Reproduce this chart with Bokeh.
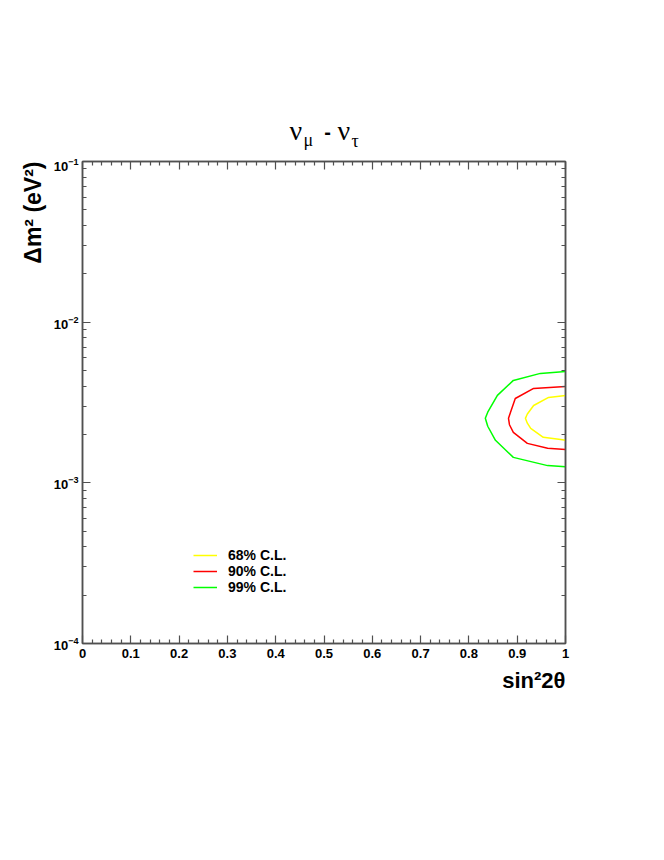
from bokeh.plotting import figure
from bokeh.layouts import column
from bokeh.models import (Range1d, FixedTicker, LinearAxis, LogAxis, Label, Title,
                          Legend, LegendItem, CustomJSTickFormatter)
from bokeh.embed import file_html
from bokeh.resources import INLINE

# ---- data ----
sin2_68 = [1.0, 0.965, 0.934, 0.921, 0.917, 0.921, 0.928, 0.954, 0.990, 1.0]
dm2_68 = [3.50e-3, 3.40e-3, 3.03e-3, 2.68e-3, 2.52e-3, 2.35e-3, 2.18e-3, 1.92e-3, 1.86e-3, 1.84e-3]

sin2_90 = [1.0, 0.934, 0.896, 0.886, 0.882, 0.884, 0.892, 0.921, 0.963, 1.0]
dm2_90 = [3.98e-3, 3.87e-3, 3.35e-3, 2.74e-3, 2.52e-3, 2.30e-3, 2.06e-3, 1.76e-3, 1.64e-3, 1.61e-3]

sin2_99 = [1.0, 0.948, 0.892, 0.859, 0.839, 0.834, 0.839, 0.855, 0.892, 0.963, 1.0]
dm2_99 = [4.93e-3, 4.80e-3, 4.34e-3, 3.50e-3, 2.75e-3, 2.52e-3, 2.25e-3, 1.84e-3, 1.44e-3, 1.28e-3, 1.26e-3]

cl_labels = ["68% C.L.", "90% C.L.", "99% C.L."]
cl_colors = ["#ffff00", "#ff0000", "#00ff00"]

x_ticks = [0.0, 0.1, 0.2, 0.3, 0.4, 0.5, 0.6, 0.7, 0.8, 0.9, 1.0]
y_ticks = [1e-4, 1e-3, 1e-2, 1e-1]

FONT = "Liberation Sans"
SERIF = "Liberation Serif"
AX = "#505050"

x_minor = [i * 0.02 for i in range(51) if i % 5]
y_minor = [m * t for t in y_ticks[:-1] for m in range(2, 10)]

# ---------- title strip (its frame is aligned with the plot frame: starts at x=82) ----------
TH = 158
FL = 82
head = figure(width=656, height=TH, x_range=Range1d(0, 1), y_range=Range1d(0, 1),
              x_axis_location=None, y_axis_location=None,
              output_backend="svg", toolbar_location=None,
              min_border_left=0, min_border_right=0, min_border_top=0, min_border_bottom=0)
head.grid.visible = False
head.outline_line_color = None
head.border_fill_color = "white"


def tlabel(x, baseline, text, font, size, style="normal", align="left"):
    head.add_layout(Label(x=x - FL, y=TH - baseline, x_units="screen", y_units="screen",
                          text=text, text_font=font, text_font_size=size,
                          text_font_style=style, text_align=align,
                          text_baseline="alphabetic", text_color="black"))


tlabel(289, 130, "ν", SERIF, "28px")
tlabel(303, 139, "μ", SERIF, "18px")
tlabel(327, 131, "-", FONT, "20px", "bold", "center")
tlabel(337, 130, "ν", SERIF, "28px")
tlabel(351, 140, "τ", SERIF, "18px")

# ---------- main plot ----------
p = figure(width=656, height=838 - TH,
           x_range=Range1d(0, 1), y_range=Range1d(1e-4, 1e-1),
           y_axis_type="log", output_backend="svg", toolbar_location=None,
           min_border_left=82, min_border_right=91,
           min_border_top=161 - TH, min_border_bottom=195)
p.grid.visible = False
p.outline_line_color = AX
p.outline_line_width = 1.5
p.background_fill_color = "white"
p.border_fill_color = "white"

empty = CustomJSTickFormatter(code="return ''")


def style_axis(ax, ticker, labels=True):
    ax.ticker = ticker
    ax.axis_line_color = AX
    ax.axis_line_width = 1.5
    ax.major_tick_line_color = AX
    ax.minor_tick_line_color = AX
    ax.major_tick_line_width = 1.2
    ax.minor_tick_line_width = 1.2
    ax.major_tick_in = 8
    ax.major_tick_out = 0
    ax.minor_tick_in = 4
    ax.minor_tick_out = 0
    if labels:
        ax.major_label_text_font = FONT
        ax.major_label_text_font_style = "bold"
        ax.major_label_text_color = "black"
    else:
        ax.formatter = empty
        ax.major_label_text_font_size = "1px"
        ax.major_label_standoff = 0


style_axis(p.xaxis[0], FixedTicker(ticks=x_ticks, minor_ticks=x_minor))
p.xaxis.major_label_text_font_size = "13px"
p.xaxis.major_label_standoff = 5

style_axis(p.yaxis[0], FixedTicker(ticks=y_ticks, minor_ticks=y_minor))
p.yaxis.major_label_text_font_size = "13px"
p.yaxis.major_label_standoff = 4

top = LinearAxis()
style_axis(top, FixedTicker(ticks=x_ticks, minor_ticks=x_minor), labels=False)
p.add_layout(top, "above")
right = LogAxis()
style_axis(right, FixedTicker(ticks=y_ticks, minor_ticks=y_minor), labels=False)
p.add_layout(right, "right")

r68 = p.line(sin2_68, dm2_68, line_color=cl_colors[0], line_width=1.5)
r90 = p.line(sin2_90, dm2_90, line_color=cl_colors[1], line_width=1.5)
r99 = p.line(sin2_99, dm2_99, line_color=cl_colors[2], line_width=1.5)

legend = Legend(items=[LegendItem(label=cl_labels[0], renderers=[r68]),
                       LegendItem(label=cl_labels[1], renderers=[r90]),
                       LegendItem(label=cl_labels[2], renderers=[r99])],
                location=(111, 48), glyph_width=24, glyph_height=16,
                label_height=16, spacing=0, padding=0, margin=0,
                label_standoff=11, border_line_color=None,
                background_fill_alpha=0, label_text_color="black",
                label_text_font=FONT, label_text_font_style="bold",
                label_text_font_size="14px")
p.add_layout(legend)

# axis titles
p.add_layout(Title(text="Δm² (eV²)", align="right", text_color="black",
                   text_font=FONT, text_font_style="bold", text_font_size="23px"), "left")
p.add_layout(Title(text="sin²2θ", align="right", text_color="black",
                   text_font=FONT, text_font_style="bold", text_font_size="22px"), "below")

layout = column(head, p, spacing=0)
open("out.html", "w").write(file_html(layout, INLINE))
